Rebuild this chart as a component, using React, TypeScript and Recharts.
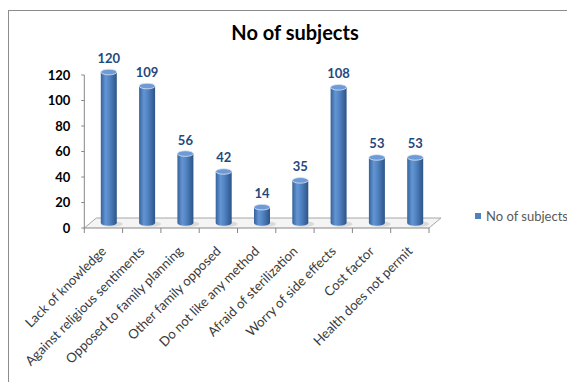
import { Bar, BarChart, LabelList, Legend, ReferenceArea, XAxis, YAxis } from "recharts";

const categories = [
  "Lack of knowledge",
  "Against religious sentiments",
  "Opposed to family planning",
  "Other family opposed",
  "Do not like any method",
  "Afraid of sterilization",
  "Worry of side effects",
  "Cost factor",
  "Health does not permit",
];
const subjects = [120, 109, 56, 42, 14, 35, 108, 53, 53];
const yTicks = [0, 20, 40, 60, 80, 100, 120];
const seriesName = "No of subjects";

const data = categories.map((reason, i) => ({ reason, subjects: subjects[i] }));

// depth offset of the 3d look
const DEPTH_X = 12;
const DEPTH_Y = 10;
const BAR_DX = 5.5;

const font = "Lato, 'Open Sans', sans-serif";

const Floor = (props: any) => {
  const { x, y, width } = props;
  if (x == null) return null;
  const step = width / categories.length;
  const ticks = categories.map((_, i) => x + i * step).concat(x + width);
  return (
    <g>
      <polygon
        points={`${x},${y} ${x + width},${y} ${x + width + DEPTH_X},${y - DEPTH_Y} ${x + DEPTH_X},${y - DEPTH_Y}`}
        fill="#f4f4f4"
      />
      <polyline
        points={`${x},${y} ${x + DEPTH_X},${y - DEPTH_Y} ${x + width + DEPTH_X},${y - DEPTH_Y} ${x + width},${y}`}
        fill="none"
        stroke="#a6a6a6"
        strokeWidth={1}
      />
      {ticks.map((tx, i) => (
        <line key={i} x1={tx} y1={y} x2={tx} y2={y + 5} stroke="#868686" />
      ))}
    </g>
  );
};

const Cylinder = (props: any) => {
  const { x, y, width, height } = props;
  if (x == null || width == null) return null;
  const cx = x + width / 2 + BAR_DX;
  const rx = width / 2;
  const ry = 2.8;
  const left = cx - rx;
  const top = y - 3;
  const bottom = y + height - 5;
  return (
    <g>
      <ellipse cx={cx + 3} cy={bottom + 1} rx={rx + 3} ry={ry} fill="#c8c8c8" opacity={0.6} />
      <path
        d={`M${left},${top} L${left},${bottom} A${rx},${ry} 0 0 0 ${left + width},${bottom} L${left + width},${top} Z`}
        fill="url(#cylFill)"
      />
      <ellipse cx={cx} cy={top} rx={rx} ry={ry} fill="#6e9bd6" stroke="#dbe6f4" strokeWidth={0.8} />
    </g>
  );
};

const ValueLabel = (props: any) => {
  const { x, y, width, value } = props;
  return (
    <text
      x={x + width / 2 + BAR_DX}
      y={y - 12}
      textAnchor="middle"
      fill="#1f497d"
      fontSize={13}
      fontWeight="bold"
      fontFamily={font}
    >
      {value}
    </text>
  );
};

const CategoryTick = (props: any) => {
  const { x, y, payload } = props;
  const tx = x + 3.5;
  const ty = y + 24;
  return (
    <text
      x={tx}
      y={ty}
      transform={`rotate(-45, ${tx}, ${ty})`}
      textAnchor="end"
      fontSize={13.2}
      fill="#3a3a3a"
      fontFamily={font}
    >
      {payload.value}
    </text>
  );
};

const LegendBox = () => (
  <div style={{ display: "flex", alignItems: "center", fontFamily: font, fontSize: 13, color: "#595959" }}>
    <span style={{ display: "inline-block", width: 6, height: 6, background: "#4f81bd", marginRight: 5 }} />
    {seriesName}
  </div>
);

const App = () => {
  return (
    <div style={{ position: "relative", width: 567, height: 374 }}>
      <div
        style={{
          position: "absolute",
          left: 0,
          top: 2,
          width: 564,
          height: 380,
          borderTop: "1px solid #8c8c8c",
          borderLeft: "1px solid #8c8c8c",
        }}
      />
      <div
        style={{
          position: "absolute",
          left: 187,
          top: 12,
          width: 200,
          textAlign: "center",
          fontFamily: font,
          fontWeight: "bold",
          fontSize: 20,
          lineHeight: "24px",
          color: "#000",
        }}
      >
        {seriesName}
      </div>
      <BarChart width={567} height={374} data={data} margin={{ top: 67, right: 146, left: 0, bottom: 0 }} barSize={16}>
        <defs>
          <linearGradient id="cylFill" x1="0" y1="0" x2="1" y2="0">
            <stop offset="0%" stopColor="#35629b" />
            <stop offset="30%" stopColor="#6495d3" />
            <stop offset="55%" stopColor="#5182c2" />
            <stop offset="100%" stopColor="#2c5587" />
          </linearGradient>
        </defs>
        <ReferenceArea y1={0} y2={0} ifOverflow="visible" shape={<Floor />} />
        <XAxis
          dataKey="reason"
          interval={0}
          height={154}
          tickSize={0}
          tickMargin={0}
          tickLine={false}
          axisLine={{ stroke: "#868686" }}
          tick={<CategoryTick />}
        />
        <YAxis
          domain={[0, 120]}
          ticks={yTicks}
          width={76.3}
          tickSize={3}
          tickMargin={11}
          axisLine={{ stroke: "#868686" }}
          tickLine={{ stroke: "#868686" }}
          tick={{ fill: "#000", fontSize: 13, fontWeight: "bold", fontFamily: font }}
        />
        <Legend
          layout="vertical"
          align="center"
          verticalAlign="middle"
          content={<LegendBox />}
          wrapperStyle={{ left: 467, top: 200, width: 110 }}
        />
        <Bar dataKey="subjects" name={seriesName} shape={<Cylinder />} isAnimationActive={false}>
          <LabelList dataKey="subjects" content={<ValueLabel />} />
        </Bar>
      </BarChart>
    </div>
  );
};

export default App;
